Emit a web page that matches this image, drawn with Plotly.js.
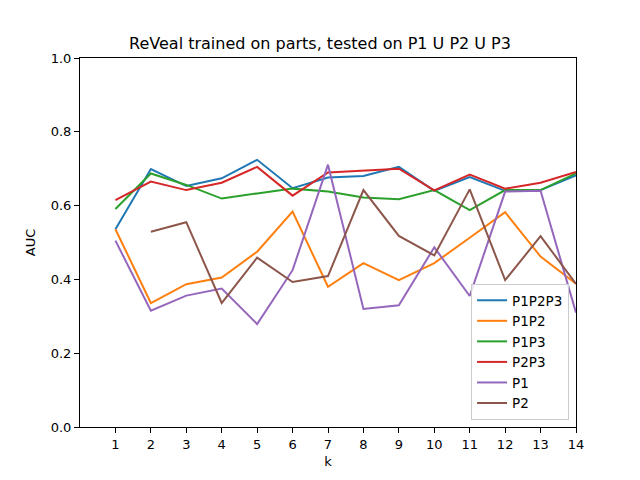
<!DOCTYPE html>
<html>
<head>
<meta charset="utf-8">
<script src="https://cdn.plot.ly/plotly-3.0.1.min.js"></script>
<style>
  body { margin: 0; }
  #chart { width: 640px; height: 480px; }
</style>
</head>
<body>
<div id="chart"></div>
<script>
var k = [1, 2, 3, 4, 5, 6, 7, 8, 9, 10, 11, 12, 13, 14];
var kP2 = [2, 3, 4, 5, 6, 7, 8, 9, 10, 11, 12, 13, 14];

var p1p2p3 = [0.536, 0.699, 0.653, 0.674, 0.724, 0.647, 0.676, 0.680, 0.705, 0.640, 0.677, 0.640, 0.642, 0.682];
var p1p2   = [0.536, 0.336, 0.387, 0.405, 0.475, 0.584, 0.380, 0.444, 0.398, 0.444, 0.513, 0.582, 0.462, 0.388];
var p1p3   = [0.591, 0.687, 0.656, 0.619, 0.633, 0.646, 0.638, 0.622, 0.617, 0.642, 0.588, 0.642, 0.642, 0.687];
var p2p3   = [0.615, 0.665, 0.642, 0.662, 0.705, 0.627, 0.690, 0.696, 0.700, 0.641, 0.684, 0.646, 0.662, 0.691];
var p1     = [0.505, 0.315, 0.356, 0.375, 0.279, 0.425, 0.711, 0.320, 0.330, 0.487, 0.355, 0.638, 0.640, 0.310];
var p2     = [0.529, 0.555, 0.336, 0.459, 0.393, 0.409, 0.642, 0.518, 0.465, 0.644, 0.398, 0.517, 0.388];

var names  = ['P1P2P3', 'P1P2', 'P1P3', 'P2P3', 'P1', 'P2'];
var colors = ['#1f77b4', '#ff7f0e', '#2ca02c', '#d62728', '#9467bd', '#8c564b'];
var xs = [k, k, k, k, k, kP2];
var ys = [p1p2p3, p1p2, p1p3, p2p3, p1, p2];

var traces = [];
for (var i = 0; i < names.length; i++) {
    traces.push({
        x: xs[i],
        y: ys[i],
        name: names[i],
        type: 'scatter',
        mode: 'lines',
        line: { color: colors[i], width: 2 }
    });
}

var axisStyle = {
    showgrid: false,
    zeroline: false,
    showline: true,
    mirror: true,
    linecolor: '#000',
    linewidth: 1,
    ticks: 'outside',
    ticklen: 5,
    tickcolor: '#000',
    tickfont: { size: 13, color: '#000' }
};

var layout = {
    width: 640,
    height: 480,
    font: { family: 'DejaVu Sans', color: '#000' },
    paper_bgcolor: '#fff',
    plot_bgcolor: '#fff',
    margin: { l: 80, r: 64, t: 58, b: 53 },
    title: {
        text: 'ReVeal trained on parts, tested on P1 U P2 U P3',
        font: { size: 16, color: '#000' },
        x: 0.5,
        xanchor: 'center',
        y: 0.91,
        yanchor: 'middle'
    },
    xaxis: Object.assign({}, axisStyle, {
        range: [0, 14],
        tickvals: k,
        title: { text: 'k', font: { size: 13 }, standoff: 6 }
    }),
    yaxis: Object.assign({}, axisStyle, {
        range: [0, 1],
        tickvals: [0, 0.2, 0.4, 0.6, 0.8, 1.0],
        tickformat: '.1f',
        title: { text: 'AUC', font: { size: 13 }, standoff: 12 }
    }),
    showlegend: true,
    legend: {
        x: 0.986,
        y: 0.019,
        xanchor: 'right',
        yanchor: 'bottom',
        bgcolor: 'rgba(255,255,255,0.8)',
        bordercolor: '#ccc',
        borderwidth: 1,
        font: { size: 13.5, color: '#000' },
        tracegroupgap: 0
    }
};

Plotly.newPlot('chart', traces, layout, { staticPlot: true });
</script>
</body>
</html>
